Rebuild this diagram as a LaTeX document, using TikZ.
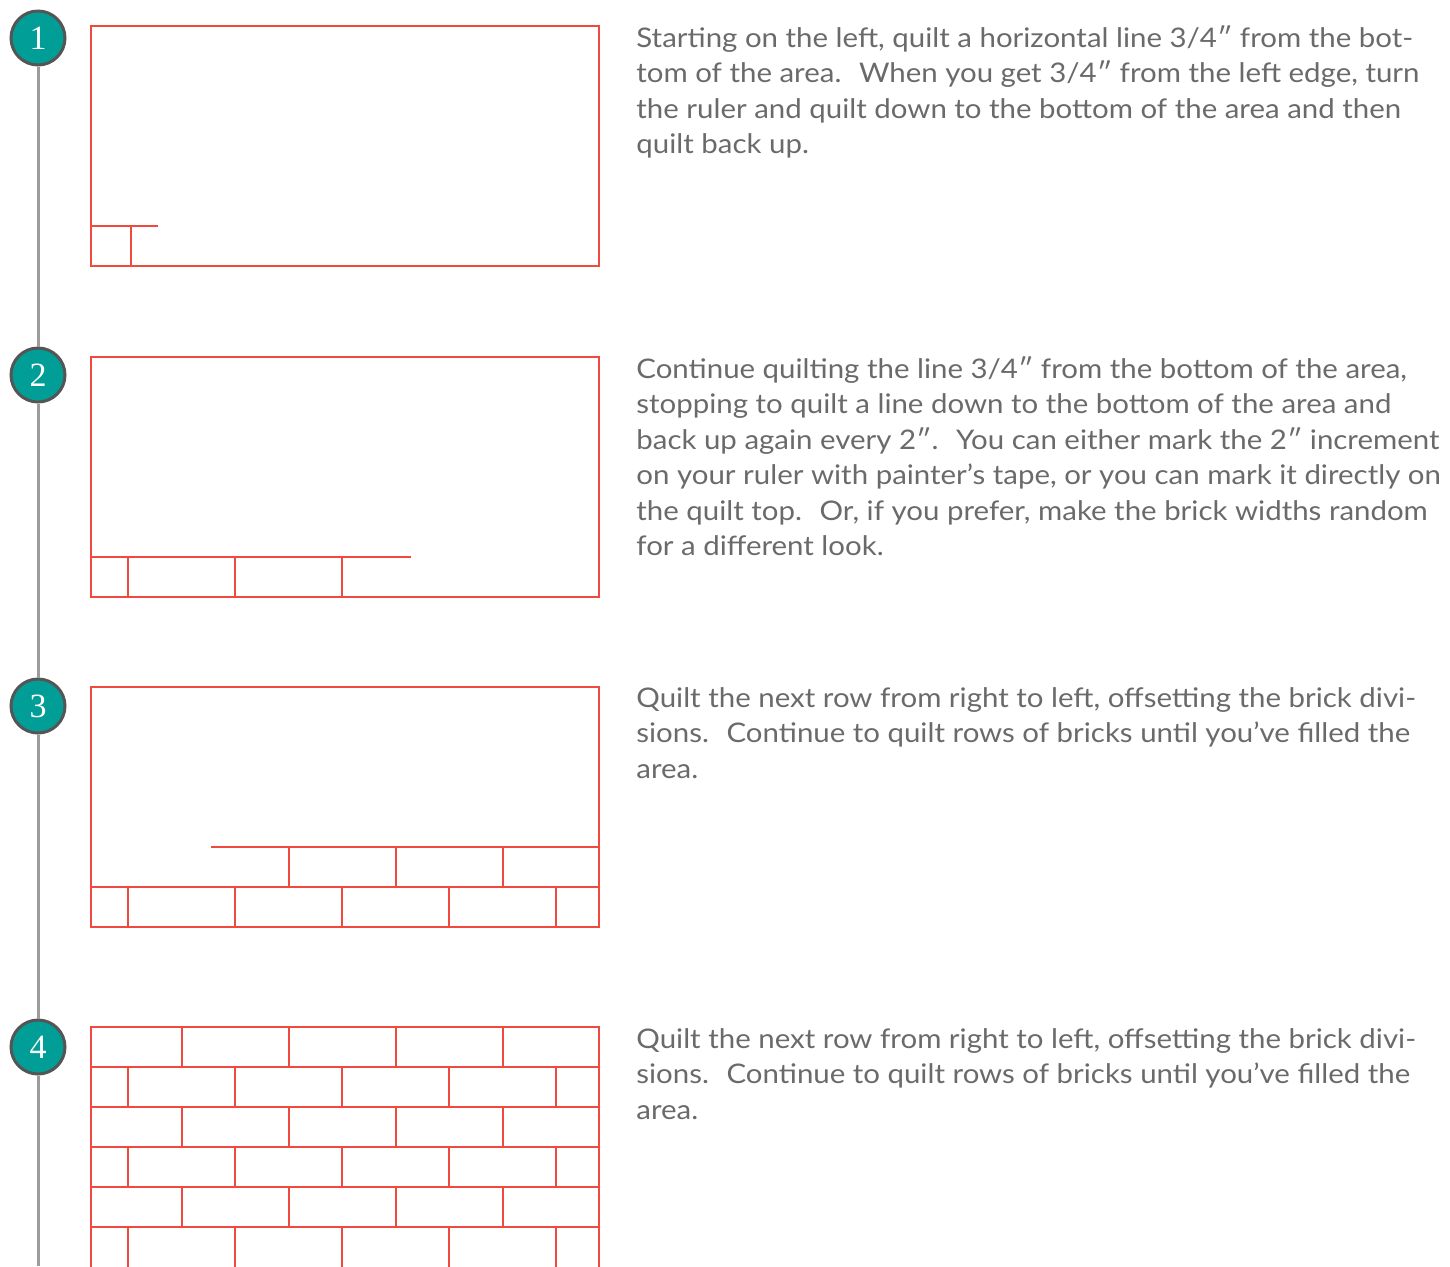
\documentclass[tikz,border=0pt]{standalone}
\usepackage{fontspec}
\setmainfont{Lato}[FakeStretch=1.09]
\newfontfamily\numfont{Liberation Serif}
\usepackage{xcolor}
\usetikzlibrary{positioning}
\definecolor{brickred}{HTML}{F04A3E}
\definecolor{stepteal}{HTML}{009E96}
\definecolor{stepedge}{HTML}{555555}
\definecolor{linegray}{HTML}{9C9C9C}
\definecolor{textgray}{HTML}{6A6A6A}
\tikzstyle{stepnum} = [circle, draw=stepedge, line width=1.5pt, fill=stepteal, minimum size=27pt, inner sep=0pt, text=white, font=\numfont\fontsize{17}{17}\selectfont]
\tikzstyle{panel} = [rectangle, draw=brickred, line width=1.25pt, minimum width=254pt, minimum height=120pt, inner sep=0pt]
\tikzstyle{brick} = [draw=brickred, line width=1.25pt]
\tikzstyle{timeline} = [draw=linegray, line width=1.5pt]
\tikzstyle{desc} = [anchor=base west, align=left, inner sep=0pt, text=textgray, font=\fontsize{13.5}{17.75}\selectfont]

\begin{document}
\begin{tikzpicture}[x=0.5pt, y=-0.5pt]
        \useasboundingbox (0,0) rectangle (1450,1266);
        \clip (0,0) rectangle (1450,1266);
        % Nodes
        \node (step1) [stepnum] at (38,38) {1};
        \node (step2) [stepnum] at (38,375) {2};
        \node (step3) [stepnum] at (38,706) {3};
        \node (step4) [stepnum] at (38,1047) {4};
        \coordinate (lineend) at (38,1266);

        \node (panel1) [panel] at (345,146) {};
        \node (panel2) [panel] at (345,477) {};
        \node (panel3) [panel] at (345,807) {};
        \node (panel4) [panel, minimum height=124pt] at (345,1151) {};

        % texts sit on the baseline of their last line
        \node (text1) [desc] at (636,153.5) {Starting on the left, quilt a horizontal line 3/4″ from the bot-\\
tom of the area.~ When you get 3/4″ from the left edge, turn\\
the ruler and quilt down to the bottom of the area and then\\
quilt back up.};
        \node (text2) [desc] at (636,555.5) {Continue quilting the line 3/4″ from the bottom of the area,\\
stopping to quilt a line down to the bottom of the area and\\
back up again every 2″.~ You can either mark the 2″ increment\\
on your ruler with painter’s tape, or you can mark it directly on\\
the quilt top.~ Or, if you prefer, make the brick widths random\\
for a different look.};
        \node (text3) [desc] at (636,778) {Quilt the next row from right to left, offsetting the brick divi-\\
sions.~ Continue to quilt rows of bricks until you’ve filled the\\
area.};
        \node (text4) [desc] at (636,1119) {Quilt the next row from right to left, offsetting the brick divi-\\
sions.~ Continue to quilt rows of bricks until you’ve filled the\\
area.};

        % Timeline
        \draw [timeline] (step1) -- (step2);
        \draw [timeline] (step2) -- (step3);
        \draw [timeline] (step3) -- (step4);
        \draw [timeline] (step4) -- (lineend);

        % Step 1: first corner
        \draw [brick] (91,226) -- (158,226);
        \draw [brick] (131,226) -- (131,266);

        % Step 2: first row under way
        \draw [brick] (91,557) -- (411,557);
        \foreach \x in {128,235,342}
            \draw [brick] (\x,557) -- (\x,597);

        % Step 3: second row from the right
        \draw [brick] (91,887) -- (599,887);
        \foreach \x in {128,235,...,556}
            \draw [brick] (\x,887) -- (\x,927);
        \draw [brick] (211,847) -- (599,847);
        \foreach \x in {289,396,503}
            \draw [brick] (\x,847) -- (\x,887);

        % Step 4: area filled
        \foreach \y in {1067,1107,...,1227}
            \draw [brick] (91,\y) -- (599,\y);
        \foreach \y in {1027,1107,1187}
            \foreach \x in {182,289,...,503}
                \draw [brick] (\x,\y) -- (\x,\y+40);
        \foreach \y in {1067,1147,1227}
            \foreach \x in {128,235,...,556}
                \draw [brick] (\x,\y) -- (\x,\y+40);
    \end{tikzpicture}
\end{document}
